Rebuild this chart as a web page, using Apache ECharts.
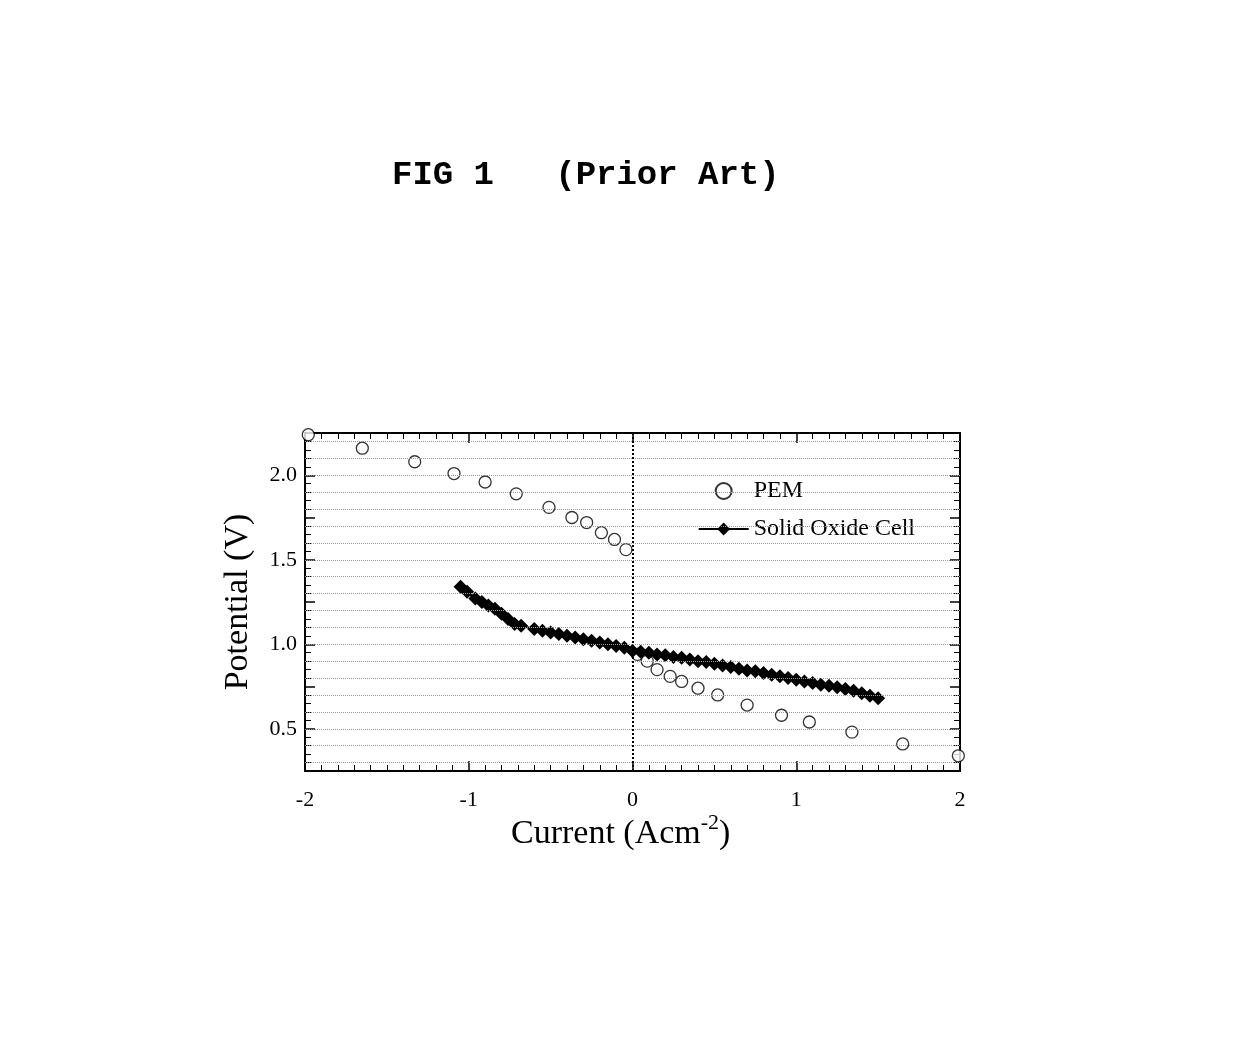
<!DOCTYPE html>
<html><head><meta charset="utf-8">
<script src="https://cdn.jsdelivr.net/npm/echarts@6/dist/echarts.min.js"></script>
<style>html,body{margin:0;background:#fff}#c{width:1240px;height:1055px}</style>
</head><body><div id="c"></div>
<script>
const pemX=[-1.98,-1.65,-1.33,-1.09,-0.90,-0.71,-0.51,-0.37,-0.28,-0.19,-0.11,-0.04,0.03,0.09,0.15,0.23,0.30,0.40,0.52,0.70,0.91,1.08,1.34,1.65,1.99];
const pemY=[2.24,2.16,2.08,2.01,1.96,1.89,1.81,1.75,1.72,1.66,1.62,1.56,0.94,0.90,0.85,0.81,0.78,0.74,0.70,0.64,0.58,0.54,0.48,0.41,0.34];
const socX=[-1.05,-1.01,-0.96,-0.92,-0.88,-0.84,-0.80,-0.76,-0.72,-0.68,-0.60,-0.55,-0.50,-0.45,-0.40,-0.35,-0.30,-0.25,-0.20,-0.15,-0.10,-0.05,0.00,0.05,0.10,0.15,0.20,0.25,0.30,0.35,0.40,0.45,0.50,0.55,0.60,0.65,0.70,0.75,0.80,0.85,0.90,0.95,1.00,1.05,1.10,1.15,1.20,1.25,1.30,1.35,1.40,1.45,1.50];
const socY=[1.34,1.31,1.27,1.25,1.23,1.21,1.18,1.15,1.12,1.11,1.09,1.08,1.07,1.06,1.05,1.04,1.03,1.02,1.01,1.00,0.99,0.98,0.96,0.955,0.95,0.94,0.935,0.925,0.92,0.91,0.90,0.895,0.885,0.875,0.865,0.855,0.845,0.84,0.83,0.82,0.81,0.80,0.79,0.78,0.77,0.76,0.755,0.745,0.735,0.725,0.71,0.695,0.68];
const c=echarts.init(document.getElementById('c'));
const F='Liberation Serif';
const axBase={axisLine:{onZero:false,lineStyle:{color:'#000',width:2}},axisTick:{inside:true,length:10,lineStyle:{color:'#000',width:1.5}},minorTick:{show:true,splitNumber:5,length:6,lineStyle:{color:'#000'}}};
const xMinor={show:true,splitNumber:10,length:6,lineStyle:{color:'#000'}};
c.setOption({
animation:false,
graphic:[{type:'text',left:392,top:158,style:{text:'FIG 1   (Prior Art)',font:'bold 34px "Liberation Mono"',fill:'#000'}},
{type:'text',left:511,top:812,style:{rich:{a:{fontFamily:F,fontSize:34,fill:'#000',color:'#000'},s:{fontFamily:F,fontSize:22,color:'#000',verticalAlign:'top',padding:[0,0,22,0]}},text:'{a|Current (Acm}{s|-2}{a|)}'}}],
grid:{left:305,right:280,top:433,bottom:284},
legend:{right:320,top:474,orient:'vertical',itemGap:14,itemWidth:50,itemHeight:16,textStyle:{fontFamily:F,fontSize:24,color:'#000'},data:['PEM','Solid Oxide Cell']},
xAxis:[Object.assign({type:'value',min:-2,max:2,interval:1,position:'bottom',axisLabel:{fontFamily:F,fontSize:22,color:'#000',margin:18},splitLine:{show:false}},axBase,{minorTick:xMinor}),
Object.assign({type:'value',min:-2,max:2,interval:1,position:'top',axisLabel:{show:false},splitLine:{show:false}},axBase,{minorTick:xMinor})],
yAxis:[Object.assign({type:'value',min:0.25,max:2.25,interval:0.25,position:'left',name:'Potential (V)',nameLocation:'middle',nameGap:50,nameTextStyle:{fontFamily:F,fontSize:34,color:'#000'},
axisLabel:{fontFamily:F,fontSize:22,color:'#000',formatter:v=>(Math.abs(v*2-Math.round(v*2))<1e-6)?v.toFixed(1):''},splitLine:{show:false}},axBase),
Object.assign({type:'value',min:0.25,max:2.25,interval:0.25,position:'right',axisLabel:{show:false},splitLine:{show:false}},axBase)],
series:[
{name:'grid',type:'line',data:[],markLine:{silent:true,symbol:'none',label:{show:false},lineStyle:{type:'dotted',color:'#999',width:1},data:[0.3,0.4,0.5,0.6,0.7,0.8,0.9,1.0,1.1,1.2,1.3,1.4,1.5,1.6,1.7,1.8,1.9,2.0,2.1,2.2].map(v=>({yAxis:v}))}},
{name:'zero',type:'line',data:[],markLine:{silent:true,symbol:'none',label:{show:false},lineStyle:{type:'dotted',color:'#000',width:2},data:[{xAxis:0}]}},
{name:'PEM',type:'scatter',symbol:'circle',symbolSize:12,itemStyle:{color:'#fff',borderColor:'#000',borderWidth:1.3},data:pemX.map((x,i)=>[x,pemY[i]])},
{name:'Solid Oxide Cell',type:'line',symbol:'diamond',symbolSize:14,itemStyle:{color:'#000'},lineStyle:{color:'#000',width:2},data:socX.map((x,i)=>[x,socY[i]])}
]});
</script></body></html>
